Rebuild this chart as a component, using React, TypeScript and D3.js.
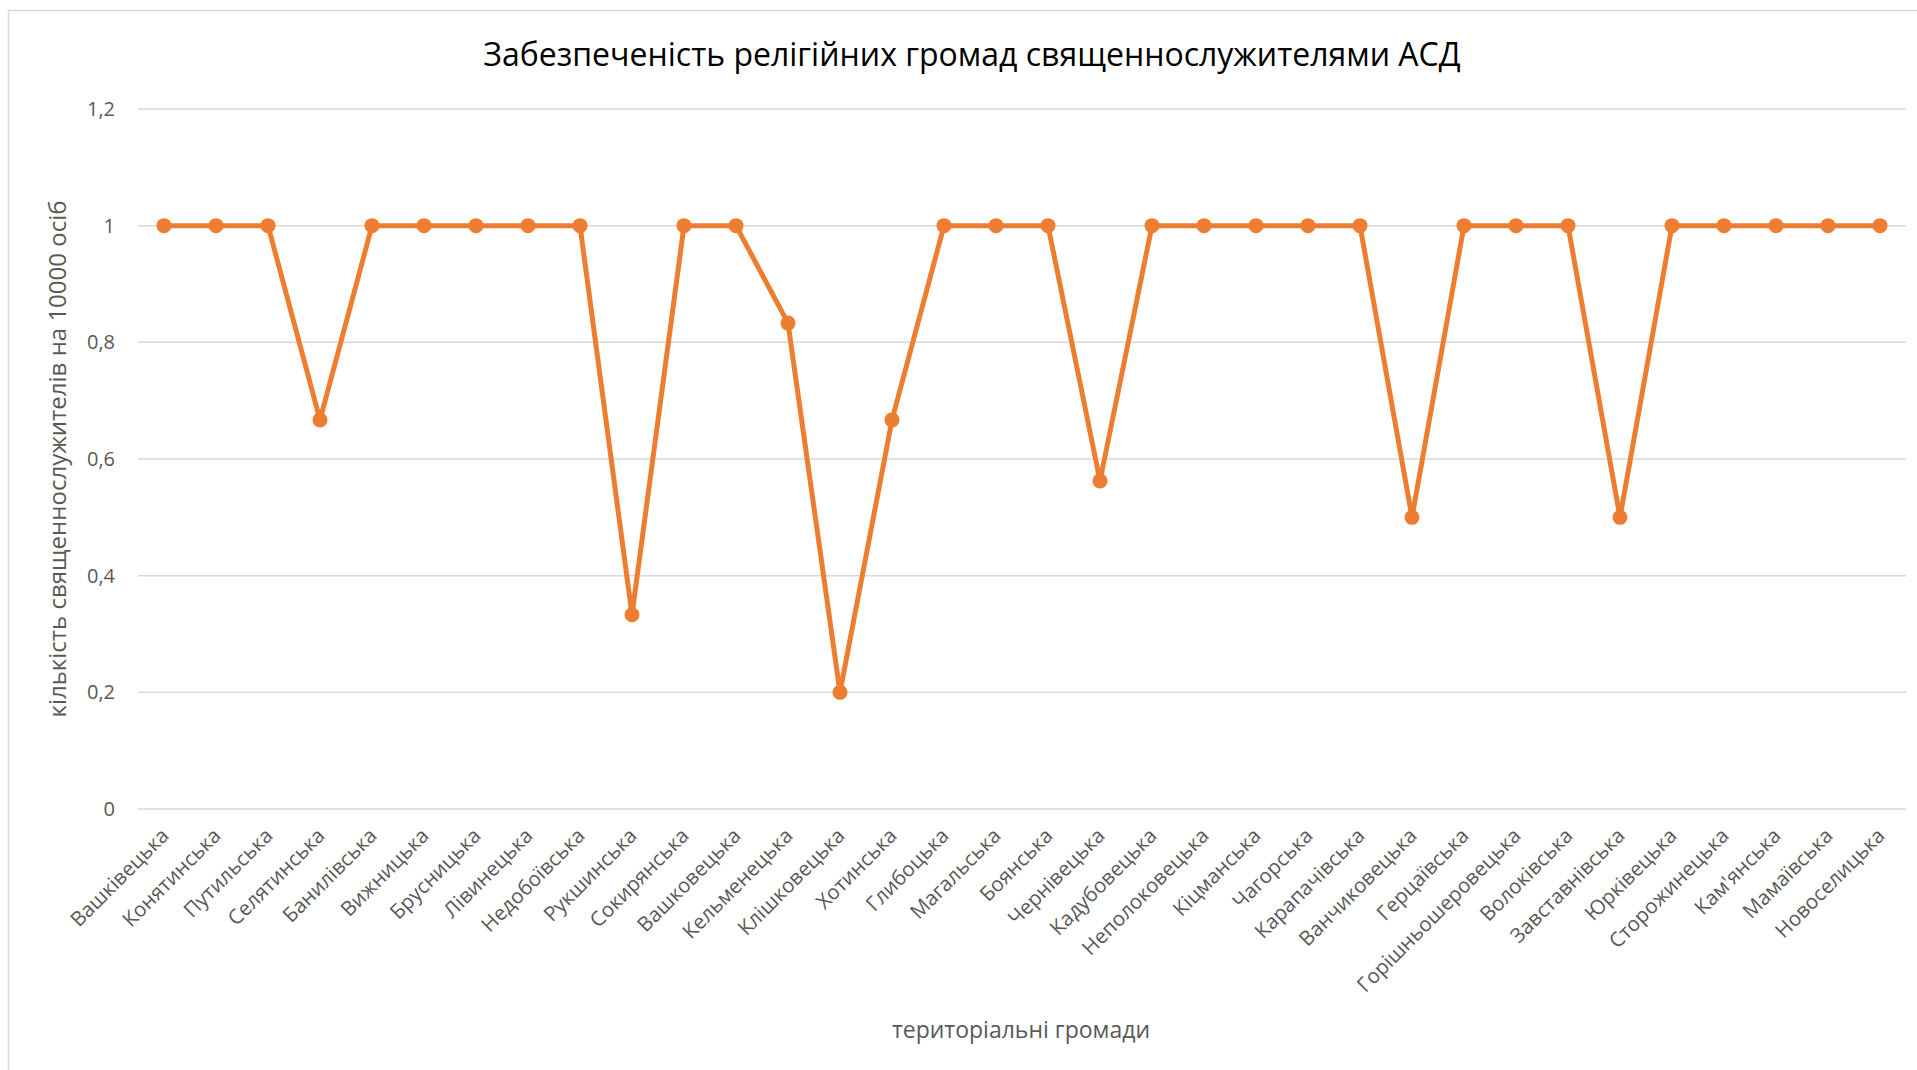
import React from "react";
import * as d3 from "d3";

const communities = [
  "Вашківецька", "Конятинська", "Путильська", "Селятинська", "Банилівська",
  "Вижницька", "Брусницька", "Лівинецька", "Недобоївська", "Рукшинська",
  "Сокирянська", "Вашковецька", "Кельменецька", "Клішковецька", "Хотинська",
  "Глибоцька", "Магальська", "Боянська", "Чернівецька", "Кадубовецька",
  "Неполоковецька", "Кіцманська", "Чагорська", "Карапачівська", "Ванчиковецька",
  "Герцаївська", "Горішньошеровецька", "Волоківська", "Завставнівська", "Юрківецька",
  "Сторожинецька", "Кам'янська", "Мамаївська", "Новоселицька",
];

const clergyPer10k = [
  1, 1, 1, 0.667, 1,
  1, 1, 1, 1, 0.333,
  1, 1, 0.833, 0.2, 0.667,
  1, 1, 1, 0.5625, 1,
  1, 1, 1, 1, 0.5,
  1, 1, 1, 0.5, 1,
  1, 1, 1, 1,
];

const yTicks = [0, 0.2, 0.4, 0.6, 0.8, 1, 1.2];

const W = 1917;
const H = 1070;
const margin = { left: 138, right: 11, top: 109, bottom: 261 };
const orange = "#ED7D31";
const grey = "#595959";
const font = "'Open Sans', sans-serif";

const App = () => {
  const x = d3
    .scalePoint<string>()
    .domain(communities)
    .range([margin.left, W - margin.right])
    .padding(0.5);
  const y = d3
    .scaleLinear()
    .domain([0, 1.2])
    .range([H - margin.bottom, margin.top]);
  const fmt = (v: number) => d3.format("~g")(v).replace(".", ",");

  const line = d3
    .line<number>()
    .x((d, i) => x(communities[i]) as number)
    .y(d => y(d));

  return (
    <svg
      width={W}
      height={H}
      style={{ position: "absolute", left: 0, top: 0, background: "#fff" }}
    >
      <rect x={8.5} y={10.5} width={W} height={H} fill="none" stroke="#d9d9d9" strokeWidth={1.5} />
      <text x={972} y={66} textAnchor="middle" fontFamily={font} fontSize={32} fill="#000">
        Забезпеченість релігійних громад священнослужителями АСД
      </text>

      {yTicks.map(t => (
        <g key={t}>
          <line
            x1={margin.left}
            x2={W - margin.right}
            y1={y(t)}
            y2={y(t)}
            stroke="#d9d9d9"
            strokeWidth={1.5}
          />
          <text
            x={115}
            y={y(t)}
            dy="0.35em"
            textAnchor="end"
            fontFamily={font}
            fontSize={20}
            fill={grey}
          >
            {fmt(t)}
          </text>
        </g>
      ))}

      <text
        transform={`translate(66 ${y(0.6)}) rotate(-90)`}
        textAnchor="middle"
        fontFamily={font}
        fontSize={24}
        fill={grey}
      >
        кількість священнослужителів на 10000 осіб
      </text>

      {communities.map(c => (
        <text
          key={c}
          transform={`translate(${(x(c) as number) + 6} ${H - margin.bottom + 28}) rotate(-45)`}
          textAnchor="end"
          fontFamily={font}
          fontSize={20.5}
          fill={grey}
        >
          {c}
        </text>
      ))}

      <text x={1021} y={1038} textAnchor="middle" fontFamily={font} fontSize={23} fill={grey}>
        територіальні громади
      </text>

      <path d={line(clergyPer10k) || ""} fill="none" stroke={orange} strokeWidth={5} strokeLinejoin="round" />
      {clergyPer10k.map((v, i) => (
        <circle key={i} cx={x(communities[i]) as number} cy={y(v)} r={7.5} fill={orange} />
      ))}
    </svg>
  );
};

export default App;
